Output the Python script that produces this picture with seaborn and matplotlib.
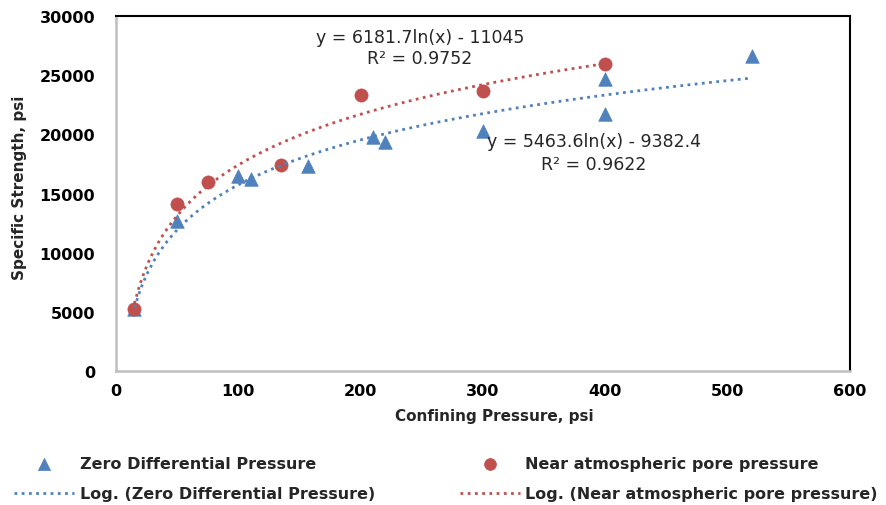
import numpy as np
import pandas as pd
import matplotlib
matplotlib.use("Agg")
import matplotlib.pyplot as plt
import seaborn as sns

# ---- data ----
zero_x = [15, 50, 100, 110, 157, 210, 220, 300, 400, 400, 520]
zero_y = [5200, 12700, 16500, 16250, 17350, 19800, 19400, 20250, 24700, 21750, 26650]
near_x = [15, 50, 75, 135, 200, 300, 400]
near_y = [5200, 14150, 16000, 17400, 23300, 23650, 25950]

zero_eq = "y = 5463.6ln(x) - 9382.4\nR² = 0.9622"
near_eq = "y = 6181.7ln(x) - 11045\nR² = 0.9752"

x_ticks = [0, 100, 200, 300, 400, 500, 600]
y_ticks = [0, 5000, 10000, 15000, 20000, 25000, 30000]

blue = "#4F81BD"
red = "#C0504D"

sns.set_theme(style="white")
plt.rcParams["font.family"] = ["DejaVu Sans"]

fig = plt.figure(figsize=(8.86, 5.06), dpi=100)
ax = fig.add_axes([0.131, 0.265, 0.828, 0.701])

zero_df = pd.DataFrame({"x": zero_x, "y": zero_y})
near_df = pd.DataFrame({"x": near_x, "y": near_y})

sns.scatterplot(data=zero_df, x="x", y="y", ax=ax, marker="^", s=95,
                color=blue, edgecolor=blue, linewidth=0.5, zorder=2,
                label="Zero Differential Pressure")
sns.scatterplot(data=near_df, x="x", y="y", ax=ax, marker="o", s=90,
                color=red, edgecolor=red, linewidth=0.5, zorder=2,
                label="Near atmospheric pore pressure")

dot = (0, (1, 1.6))
sns.regplot(data=zero_df, x="x", y="y", ax=ax, logx=True, scatter=False,
            ci=None, color=blue, label="Log. (Zero Differential Pressure)",
            line_kws={"linestyle": dot, "linewidth": 2, "zorder": 3})
sns.regplot(data=near_df, x="x", y="y", ax=ax, logx=True, scatter=False,
            ci=None, color=red, label="Log. (Near atmospheric pore pressure)",
            line_kws={"linestyle": dot, "linewidth": 2, "zorder": 3})

ax.set_xlim(0, 600)
ax.set_ylim(0, 30000)
ax.set_xticks(x_ticks)
ax.set_yticks(y_ticks)
ax.set_xticklabels([str(v) for v in x_ticks], fontweight="bold", fontsize=11.5)
ax.set_yticklabels([str(v) for v in y_ticks], fontweight="bold", fontsize=11.5)
ax.tick_params(axis="both", length=0, colors="black")
ax.tick_params(axis="y", pad=15)
ax.tick_params(axis="x", pad=9)

ax.set_xlabel("Confining Pressure, psi", fontweight="bold", fontsize=11, labelpad=2)
ax.xaxis.set_label_coords(0.515, -0.105)
ax.set_ylabel("Specific Strength, psi", fontweight="bold", fontsize=11, labelpad=6)
ax.yaxis.set_label_coords(-0.122, 0.52)

for side in ["left", "bottom"]:
    ax.spines[side].set_color("#BFBFBF")
    ax.spines[side].set_linewidth(1.8)
for side in ["top", "right"]:
    ax.spines[side].set_color("black")
    ax.spines[side].set_linewidth(1.5)
ax.grid(False)

ax.text(248.5, 27370, near_eq, ha="center", va="center", fontsize=12.5,
        color="#262626", linespacing=1.25)
ax.text(390.7, 18500, zero_eq, ha="center", va="center", fontsize=12.5,
        color="#262626", linespacing=1.35)

handles, labels = ax.get_legend_handles_labels()
order = {l: h for h, l in zip(handles, labels)}
leg_labels = ["Zero Differential Pressure", "Log. (Zero Differential Pressure)",
              "Near atmospheric pore pressure", "Log. (Near atmospheric pore pressure)"]
if ax.legend_:
    ax.legend_.remove()
leg = fig.legend([order[l] for l in leg_labels], leg_labels, ncol=2,
                 loc="lower left", bbox_to_anchor=(0.0, -0.021), frameon=False,
                 prop={"weight": "bold", "size": 11.5}, handlelength=3.75,
                 columnspacing=5.3, handletextpad=0.35, labelspacing=0.95,
                 markerscale=0.9)

fig.savefig("out.png", dpi=100)
